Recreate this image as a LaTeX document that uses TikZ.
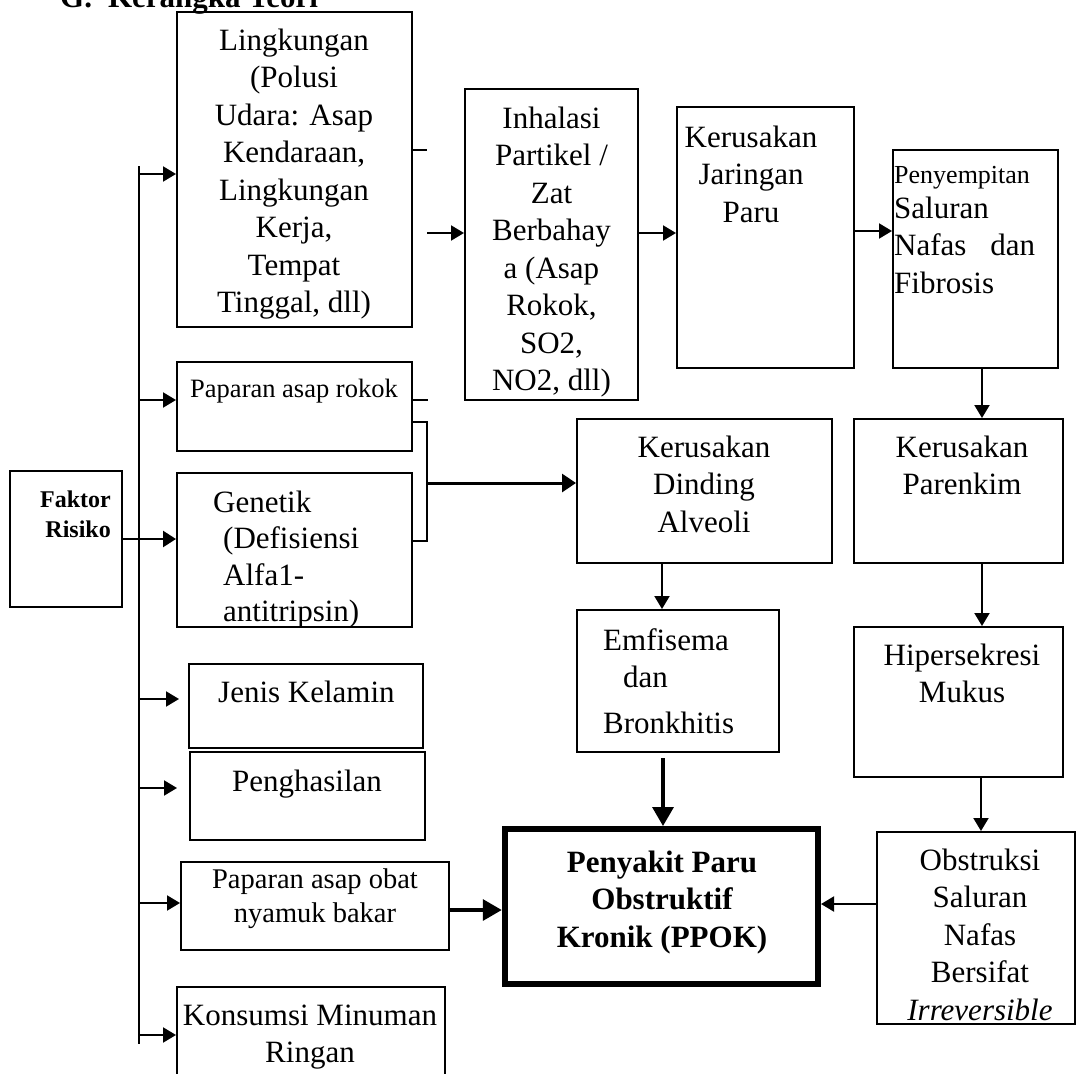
\documentclass[tikz,border=0pt]{standalone}
\usepackage{fontspec}
\setmainfont{Liberation Serif}
\usetikzlibrary{arrows.meta}
\begin{document}
\begin{tikzpicture}[x=1pt,y=-1pt,
  box/.style={draw, line width=2pt, inner sep=0pt, rectangle},
  txt/.style={inner sep=0pt, font=\fontsize{31}{37.5}\selectfont, align=center},
  ln/.style={line width=2pt},
  arr/.style={line width=2pt, -{Triangle[length=13pt,width=15pt]}},
  arrbig/.style={line width=3.4pt, -{Triangle[length=19pt,width=21pt]}},
  arrmid/.style={line width=3pt, -{Triangle[length=14pt,width=18pt]}}]
\useasboundingbox (0,0) rectangle (1078,1073);

% title
\node[inner sep=0pt, anchor=base west, font=\fontsize{31}{37.5}\selectfont\bfseries] (title) at (60,8) {G.\hspace{16pt}Kerangka Teori};

% boxes
\node[box, minimum width=112pt, minimum height=136pt] (faktor) at (66,539) {};
\node[box, minimum width=235pt, minimum height=315pt] (ling) at (294.5,169.5) {};
\node[box, minimum width=235pt, minimum height=89pt] (rokok) at (294.5,406.5) {};
\node[box, minimum width=235pt, minimum height=154pt] (genetik) at (294.5,550) {};
\node[box, minimum width=234pt, minimum height=84pt] (jenis) at (306,706) {};
\node[box, minimum width=235pt, minimum height=88pt] (hasil) at (307.5,796) {};
\node[box, minimum width=268pt, minimum height=88pt] (obat) at (315,906) {};
\node[box, minimum width=268pt, minimum height=110pt] (konsumsi) at (311,1042) {};
\node[box, minimum width=173pt, minimum height=311pt] (inhal) at (551.5,244.5) {};
\node[box, minimum width=177pt, minimum height=261pt] (jaring) at (765.5,237.5) {};
\node[box, minimum width=165pt, minimum height=218pt] (penyem) at (975.5,259) {};
\node[box, minimum width=255pt, minimum height=144pt] (dinding) at (704.5,491) {};
\node[box, minimum width=209pt, minimum height=144pt] (parenkim) at (958.5,491) {};
\node[box, minimum width=202pt, minimum height=142pt] (emfis) at (678,681) {};
\node[box, minimum width=209pt, minimum height=150pt] (hiper) at (958.5,702) {};
\node[draw, line width=6.5pt, inner sep=0pt, minimum width=313pt, minimum height=155pt] (ppok) at (661.5,906.5) {};
\node[box, minimum width=198pt, minimum height=192pt] (obstr) at (976,928) {};

% texts
\node[txt, anchor=north east, align=right, font=\fontsize{24}{30}\selectfont\bfseries] (tfaktor) at (111,486) {\strut Faktor\\Risiko};
\node[txt, anchor=north] (tling) at (294,23.75) {\strut Lingkungan\\(Polusi\\Udara: Asap\\Kendaraan,\\Lingkungan\\Kerja,\\Tempat\\Tinggal, dll)};
\node[txt, anchor=base, font=\fontsize{26.5}{32}\selectfont] (trokok) at (294,397) {Paparan asap rokok};
\node[txt, anchor=north west, align=left, font=\fontsize{31}{36.5}\selectfont] (tgenetik) at (223,486.45) {\strut\hspace*{-10pt}Genetik\\(Defisiensi\\Alfa1-\\antitripsin)};
\node[txt, anchor=base west] (tjenis) at (218,702) {Jenis Kelamin};
\node[txt, anchor=base] (thasil) at (307,791) {Penghasilan};
\node[txt, anchor=north, font=\fontsize{28.5}{34}\selectfont] (tobat) at (315,864.2) {\strut Paparan asap obat\\nyamuk bakar};
\node[txt, anchor=north] (tkonsumsi) at (310,998.75) {\strut Konsumsi Minuman\\Ringan};
\node[txt, anchor=north] (tinhal) at (551.5,102) {\strut Inhalasi\\Partikel /\\Zat\\Berbahay\\a (Asap\\Rokok,\\SO2,\\NO2, dll)};
\node[txt, anchor=north] (tjaring) at (751,120.75) {\strut Kerusakan\\Jaringan\\Paru};
\node[txt, anchor=base west, font=\fontsize{26}{30}\selectfont] (tpenyem1) at (894,183) {Penyempitan};
\node[txt, anchor=north west, align=left] (tpenyem2) at (894,191.75) {\strut Saluran\\\makebox[141pt][s]{Nafas\hfill dan}\\Fibrosis};
\node[txt, anchor=north] (tdinding) at (704,430.75) {\strut Kerusakan\\Dinding\\Alveoli};
\node[txt, anchor=north] (tparenkim) at (962,430.75) {\strut Kerusakan\\Parenkim};
\node[txt, anchor=base west] (temfis1) at (603,650) {Emfisema};
\node[txt, anchor=base west] (temfis2) at (623,687) {dan};
\node[txt, anchor=base west] (temfis3) at (603,733) {Bronkhitis};
\node[txt, anchor=north] (thiper) at (962,638.75) {\strut Hipersekresi\\Mukus};
\node[txt, anchor=north, font=\fontsize{31}{37.5}\selectfont\bfseries] (tppok) at (662,845.75) {\strut Penyakit Paru\\Obstruktif\\Kronik (PPOK)};
\node[txt, anchor=north] (tobstr) at (980,843.75) {\strut Obstruksi\\Saluran\\Nafas\\Bersifat\\\textit{Irreversible}};

% trunk
\coordinate (ttop) at (139,166);
\coordinate (tbot) at (139,1044);
\draw[ln] (ttop) -- (tbot);
\coordinate (b1) at (139,174);
\coordinate (b2) at (139,400);
\coordinate (b3) at (139,699);
\coordinate (b4) at (139,788);
\coordinate (b5) at (139,903);
\coordinate (b6) at (139,1035);
\draw[arr] (b1) -- (b1 -| ling.west);
\draw[arr] (b2) -- (b2 -| rokok.west);
\draw[arr] (b3) -- (179,699);
\draw[arr] (b4) -- (177,788);
\draw[arr] (b5) -- (b5 -| obat.west);
\draw[arr] (b6) -- (b6 -| konsumsi.west);
\coordinate (f1) at (122,539);
\draw[line width=2.6pt, -{Triangle[length=13pt,width=16pt]}] (f1 -| faktor.east) -- (f1 -| genetik.west);

% stubs and bracket
\coordinate (s1) at (427,150);
\draw[ln] (s1 -| ling.east) -- (s1);
\coordinate (s2) at (428,400);
\draw[ln] (s2 -| rokok.east) -- (s2);
\coordinate (k1) at (427,422);
\coordinate (k2) at (427,541);
\coordinate (k3) at (427,483);
\draw[ln] (k1 -| rokok.east) -- (k1) -- (k2) -- (k2 -| genetik.east);
\draw[arrmid] (k3) -- (k3 -| dinding.west);

% flow arrows
\coordinate (c1) at (427,233);
\draw[arr] (c1) -- (c1 -| inhal.west);
\coordinate (c2) at (638,233);
\draw[arr] (c2 -| inhal.east) -- (c2 -| jaring.west);
\coordinate (c3) at (854,231);
\draw[arr] (c3 -| jaring.east) -- (c3 -| penyem.west);
\coordinate (c4) at (982,400);
\draw[arr] (c4 |- penyem.south) -- (c4 |- parenkim.north);
\coordinate (c5) at (662,590);
\draw[arr] (c5 |- dinding.south) -- (c5 |- emfis.north);
\coordinate (c6) at (982,590);
\draw[arr] (c6 |- parenkim.south) -- (c6 |- hiper.north);
\coordinate (c7) at (981,800);
\draw[arr] (c7 |- hiper.south) -- (c7 |- obstr.north);
\coordinate (c8) at (663,758);
\draw[arrbig] (c8) -- (663,826);
\coordinate (c9) at (449,910);
\draw[arrbig] (c9 -| obat.east) -- (c9 -| ppok.west);
\coordinate (c10) at (877,904);
\draw[arr] (c10 -| obstr.west) -- (821,904);
\end{tikzpicture}
\end{document}
